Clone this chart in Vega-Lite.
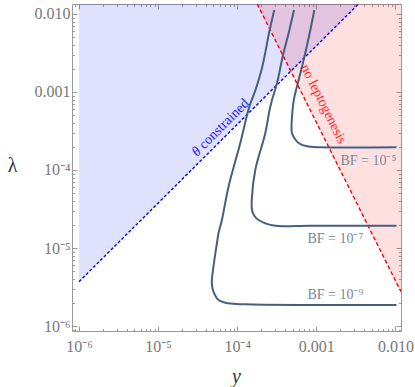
{
  "$schema": "https://vega.github.io/schema/vega-lite/v6.json",
  "width": 329,
  "height": 327,
  "autosize": "none",
  "padding": {"left": 72, "top": 4, "right": 14, "bottom": 56},
  "background": "white",
  "config": {
    "view": {"stroke": "#999999", "strokeWidth": 1},
    "axis": {
      "grid": false, "domain": false, "tickColor": "#999999", "tickWidth": 1,
      "labelFont": "Liberation Serif", "labelFontSize": 16, "labelColor": "#777777",
      "titleFont": "Liberation Serif", "titleFontWeight": "normal", "titleColor": "#333333", "titleFontSize": 20,
      "labelFlush": false, "labelOverlap": false
    }
  },
  "datasets": {
    "blue": [
      {"yc": 1e-6, "lam": 3.70e-6, "top": 0.01343},
      {"yc": 3.40e-3, "lam": 0.01343, "top": 0.01343}
    ],
    "red": [
      {"yc": 1.79e-4, "lam": 0.01343, "top": 0.01343},
      {"yc": 0.01175, "lam": 2.75e-6, "top": 0.01343}
    ],
    "curves": [
      {"bf": "1e-5", "ord": 1, "yc": 9.43e-4, "lam": 0.01125},
      {"bf": "1e-5", "ord": 2, "yc": 8.23e-4, "lam": 5.66e-3},
      {"bf": "1e-5", "ord": 3, "yc": 6.91e-4, "lam": 2.57e-3},
      {"bf": "1e-5", "ord": 4, "yc": 5.97e-4, "lam": 1.425e-3},
      {"bf": "1e-5", "ord": 5, "yc": 5.19e-4, "lam": 7.90e-4},
      {"bf": "1e-5", "ord": 6, "yc": 4.92e-4, "lam": 4.82e-4},
      {"bf": "1e-5", "ord": 7, "yc": 4.855e-4, "lam": 3.56e-4},
      {"bf": "1e-5", "ord": 8, "yc": 4.92e-4, "lam": 2.955e-4},
      {"bf": "1e-5", "ord": 9, "yc": 5.42e-4, "lam": 2.46e-4},
      {"bf": "1e-5", "ord": 10, "yc": 6.09e-4, "lam": 2.186e-4},
      {"bf": "1e-5", "ord": 11, "yc": 7.62e-4, "lam": 2.012e-4},
      {"bf": "1e-5", "ord": 12, "yc": 1.123e-3, "lam": 1.954e-4},
      {"bf": "1e-5", "ord": 13, "yc": 0.0103, "lam": 1.954e-4},
      {"bf": "1e-7", "ord": 1, "yc": 5.22e-4, "lam": 0.01125},
      {"bf": "1e-7", "ord": 2, "yc": 4.46e-4, "lam": 5.66e-3},
      {"bf": "1e-7", "ord": 3, "yc": 3.79e-4, "lam": 2.98e-3},
      {"bf": "1e-7", "ord": 4, "yc": 3.18e-4, "lam": 1.293e-3},
      {"bf": "1e-7", "ord": 5, "yc": 2.75e-4, "lam": 7.90e-4},
      {"bf": "1e-7", "ord": 6, "yc": 2.563e-4, "lam": 5.88e-4},
      {"bf": "1e-7", "ord": 7, "yc": 2.26e-4, "lam": 2.955e-4},
      {"bf": "1e-7", "ord": 8, "yc": 1.69e-4, "lam": 1.0e-4},
      {"bf": "1e-7", "ord": 9, "yc": 1.535e-4, "lam": 4.55e-5},
      {"bf": "1e-7", "ord": 10, "yc": 1.535e-4, "lam": 3.07e-5},
      {"bf": "1e-7", "ord": 11, "yc": 1.641e-4, "lam": 2.595e-5},
      {"bf": "1e-7", "ord": 12, "yc": 1.86e-4, "lam": 2.286e-5},
      {"bf": "1e-7", "ord": 13, "yc": 2.88e-4, "lam": 1.945e-5},
      {"bf": "1e-7", "ord": 14, "yc": 8.39e-4, "lam": 1.935e-5},
      {"bf": "1e-7", "ord": 15, "yc": 0.0103, "lam": 1.935e-5},
      {"bf": "1e-9", "ord": 1, "yc": 2.94e-4, "lam": 0.01125},
      {"bf": "1e-9", "ord": 2, "yc": 2.54e-4, "lam": 5.88e-3},
      {"bf": "1e-9", "ord": 3, "yc": 2.07e-4, "lam": 2.09e-3},
      {"bf": "1e-9", "ord": 4, "yc": 1.70e-4, "lam": 1.06e-3},
      {"bf": "1e-9", "ord": 5, "yc": 1.418e-4, "lam": 6.42e-4},
      {"bf": "1e-9", "ord": 6, "yc": 1.091e-4, "lam": 2.20e-4},
      {"bf": "1e-9", "ord": 7, "yc": 7.76e-5, "lam": 6.11e-5},
      {"bf": "1e-9", "ord": 8, "yc": 6.40e-5, "lam": 2.286e-5},
      {"bf": "1e-9", "ord": 9, "yc": 5.80e-5, "lam": 1.543e-5},
      {"bf": "1e-9", "ord": 10, "yc": 5.53e-5, "lam": 1.149e-5},
      {"bf": "1e-9", "ord": 11, "yc": 4.78e-5, "lam": 3.89e-6},
      {"bf": "1e-9", "ord": 12, "yc": 4.80e-5, "lam": 3.26e-6},
      {"bf": "1e-9", "ord": 13, "yc": 5.01e-5, "lam": 2.753e-6},
      {"bf": "1e-9", "ord": 14, "yc": 5.80e-5, "lam": 2.154e-6},
      {"bf": "1e-9", "ord": 15, "yc": 7.76e-5, "lam": 1.954e-6},
      {"bf": "1e-9", "ord": 16, "yc": 1.263e-4, "lam": 1.897e-6},
      {"bf": "1e-9", "ord": 17, "yc": 7.26e-4, "lam": 1.858e-6},
      {"bf": "1e-9", "ord": 18, "yc": 0.0103, "lam": 1.858e-6}
    ],
    "bflabels": [
      {"txt": "BF = 10⁻⁵", "yc": 4.55e-3, "lam": 1.30e-4},
      {"txt": "BF = 10⁻⁷", "yc": 1.74e-3, "lam": 1.30e-5},
      {"txt": "BF = 10⁻⁹", "yc": 1.74e-3, "lam": 2.49e-6}
    ],
    "theta": [{"yc": 6.1e-5, "lam": 3.46e-4}],
    "lepto": [{"yc": 1.227e-3, "lam": 7.0e-4, "txt": "no leptogenesis"}]
  },
  "layer": [
    {
      "data": {"name": "blue"},
      "mark": {"type": "area", "color": "#0000ff", "opacity": 0.12, "clip": true},
      "encoding": {
        "x": {"field": "yc", "type": "quantitative", "scale": {"type": "log", "domain": [8.15e-7, 0.01175], "nice": false},
          "axis": {"orient": "bottom", "title": "y", "titleFontStyle": "italic", "titleX": 164, "titleY": 45, "titleBaseline": "middle", "titleAlign": "center",
            "values": [9e-7, 1e-6, 2e-6, 3e-6, 4e-6, 5e-6, 6e-6, 7e-6, 8e-6, 9e-6, 1e-5, 2e-5, 3e-5, 4e-5, 5e-5, 6e-5, 7e-5, 8e-5, 9e-5, 1e-4, 2e-4, 3e-4, 4e-4, 5e-4, 6e-4, 7e-4, 8e-4, 9e-4, 1e-3, 2e-3, 3e-3, 4e-3, 5e-3, 6e-3, 7e-3, 8e-3, 9e-3, 1e-2],
            "labelExpr": "abs(log(datum.value)/LN10 - round(log(datum.value)/LN10)) > 0.01 ? '' : datum.value < 2e-6 ? '10⁻⁶' : datum.value < 2e-5 ? '10⁻⁵' : datum.value < 2e-4 ? '10⁻⁴' : datum.value < 2e-3 ? '0.001' : '0.010'",
            "tickSize": {"condition": {"test": "abs(log(datum.value)/LN10 - round(log(datum.value)/LN10)) < 0.01", "value": -5}, "value": -2.5},
            "labelPadding": 12}},
        "y": {"field": "lam", "type": "quantitative", "scale": {"type": "log", "domain": [8.63e-7, 0.01343], "nice": false},
          "axis": {"orient": "left", "title": "λ", "titleAngle": 0, "titleX": -60, "titleY": 161, "titleBaseline": "middle", "titleAlign": "center",
            "values": [9e-7, 1e-6, 2e-6, 3e-6, 4e-6, 5e-6, 6e-6, 7e-6, 8e-6, 9e-6, 1e-5, 2e-5, 3e-5, 4e-5, 5e-5, 6e-5, 7e-5, 8e-5, 9e-5, 1e-4, 2e-4, 3e-4, 4e-4, 5e-4, 6e-4, 7e-4, 8e-4, 9e-4, 1e-3, 2e-3, 3e-3, 4e-3, 5e-3, 6e-3, 7e-3, 8e-3, 9e-3, 1e-2],
            "labelExpr": "abs(log(datum.value)/LN10 - round(log(datum.value)/LN10)) > 0.01 ? '' : datum.value < 2e-6 ? '10⁻⁶' : datum.value < 2e-5 ? '10⁻⁵' : datum.value < 2e-4 ? '10⁻⁴' : datum.value < 2e-3 ? '0.001' : '0.010'",
            "tickSize": {"condition": {"test": "abs(log(datum.value)/LN10 - round(log(datum.value)/LN10)) < 0.01", "value": -5}, "value": -2.5},
            "labelPadding": 7}},
        "y2": {"field": "top"}
      }
    },
    {
      "data": {"name": "red"},
      "mark": {"type": "area", "color": "#ff0000", "opacity": 0.12, "clip": true},
      "encoding": {
        "x": {"field": "yc", "type": "quantitative", "scale": {"type": "log", "domain": [8.15e-7, 0.01175], "nice": false},
          "axis": {"orient": "top", "title": null, "labels": false,
            "values": [9e-7, 1e-6, 2e-6, 3e-6, 4e-6, 5e-6, 6e-6, 7e-6, 8e-6, 9e-6, 1e-5, 2e-5, 3e-5, 4e-5, 5e-5, 6e-5, 7e-5, 8e-5, 9e-5, 1e-4, 2e-4, 3e-4, 4e-4, 5e-4, 6e-4, 7e-4, 8e-4, 9e-4, 1e-3, 2e-3, 3e-3, 4e-3, 5e-3, 6e-3, 7e-3, 8e-3, 9e-3, 1e-2],
            "tickSize": {"condition": {"test": "abs(log(datum.value)/LN10 - round(log(datum.value)/LN10)) < 0.01", "value": -5}, "value": -2.5}}},
        "y": {"field": "lam", "type": "quantitative", "scale": {"type": "log", "domain": [8.63e-7, 0.01343], "nice": false},
          "axis": {"orient": "right", "title": null, "labels": false,
            "values": [9e-7, 1e-6, 2e-6, 3e-6, 4e-6, 5e-6, 6e-6, 7e-6, 8e-6, 9e-6, 1e-5, 2e-5, 3e-5, 4e-5, 5e-5, 6e-5, 7e-5, 8e-5, 9e-5, 1e-4, 2e-4, 3e-4, 4e-4, 5e-4, 6e-4, 7e-4, 8e-4, 9e-4, 1e-3, 2e-3, 3e-3, 4e-3, 5e-3, 6e-3, 7e-3, 8e-3, 9e-3, 1e-2],
            "tickSize": {"condition": {"test": "abs(log(datum.value)/LN10 - round(log(datum.value)/LN10)) < 0.01", "value": -5}, "value": -2.5}}},
        "y2": {"field": "top"}
      }
    },
    {
      "data": {"name": "blue"},
      "mark": {"type": "line", "color": "#0000ff", "strokeWidth": 1.4, "strokeDash": [3, 2], "clip": true},
      "encoding": {
        "x": {"field": "yc", "type": "quantitative", "scale": {"type": "log", "domain": [8.15e-7, 0.01175], "nice": false}, "axis": null},
        "y": {"field": "lam", "type": "quantitative", "scale": {"type": "log", "domain": [8.63e-7, 0.01343], "nice": false}, "axis": null}
      }
    },
    {
      "data": {"name": "red"},
      "mark": {"type": "line", "color": "#ff0000", "strokeWidth": 1.4, "strokeDash": [4, 2.5], "clip": true},
      "encoding": {
        "x": {"field": "yc", "type": "quantitative", "scale": {"type": "log", "domain": [8.15e-7, 0.01175], "nice": false}, "axis": null},
        "y": {"field": "lam", "type": "quantitative", "scale": {"type": "log", "domain": [8.63e-7, 0.01343], "nice": false}, "axis": null}
      }
    },
    {
      "data": {"name": "curves"},
      "mark": {"type": "line", "color": "#465f7d", "strokeWidth": 2, "interpolate": "catmull-rom", "clip": true},
      "encoding": {
        "x": {"field": "yc", "type": "quantitative", "scale": {"type": "log", "domain": [8.15e-7, 0.01175], "nice": false}, "axis": null},
        "y": {"field": "lam", "type": "quantitative", "scale": {"type": "log", "domain": [8.63e-7, 0.01343], "nice": false}, "axis": null},
        "detail": {"field": "bf"},
        "order": {"field": "ord", "type": "quantitative"}
      }
    },
    {
      "data": {"name": "bflabels"},
      "mark": {"type": "text", "font": "Liberation Serif", "fontSize": 14, "color": "#7a889b", "align": "center", "baseline": "middle"},
      "encoding": {
        "x": {"field": "yc", "type": "quantitative", "scale": {"type": "log", "domain": [8.15e-7, 0.01175], "nice": false}, "axis": null},
        "y": {"field": "lam", "type": "quantitative", "scale": {"type": "log", "domain": [8.63e-7, 0.01343], "nice": false}, "axis": null},
        "text": {"field": "txt"}
      }
    },
    {
      "data": {"name": "theta"},
      "mark": {"type": "text", "font": "Liberation Serif", "fontSize": 14, "color": "#1a1aff", "align": "center", "baseline": "middle", "angle": 315, "dx": 5.5},
      "encoding": {
        "x": {"field": "yc", "type": "quantitative", "scale": {"type": "log", "domain": [8.15e-7, 0.01175], "nice": false}, "axis": null},
        "y": {"field": "lam", "type": "quantitative", "scale": {"type": "log", "domain": [8.63e-7, 0.01343], "nice": false}, "axis": null},
        "text": {"value": "constrained"}
      }
    },
    {
      "data": {"name": "theta"},
      "mark": {"type": "text", "font": "Liberation Serif", "fontSize": 14, "fontStyle": "italic", "color": "#1a1aff", "align": "center", "baseline": "middle", "angle": 315, "dx": -33.5},
      "encoding": {
        "x": {"field": "yc", "type": "quantitative", "scale": {"type": "log", "domain": [8.15e-7, 0.01175], "nice": false}, "axis": null},
        "y": {"field": "lam", "type": "quantitative", "scale": {"type": "log", "domain": [8.63e-7, 0.01343], "nice": false}, "axis": null},
        "text": {"value": "θ"}
      }
    },
    {
      "data": {"name": "lepto"},
      "mark": {"type": "text", "font": "Liberation Serif", "fontSize": 14, "color": "#ff2a2a", "align": "center", "baseline": "middle", "angle": 63.5},
      "encoding": {
        "x": {"field": "yc", "type": "quantitative", "scale": {"type": "log", "domain": [8.15e-7, 0.01175], "nice": false}, "axis": null},
        "y": {"field": "lam", "type": "quantitative", "scale": {"type": "log", "domain": [8.63e-7, 0.01343], "nice": false}, "axis": null},
        "text": {"field": "txt"}
      }
    }
  ],
  "resolve": {"axis": {"x": "independent", "y": "independent"}}
}
